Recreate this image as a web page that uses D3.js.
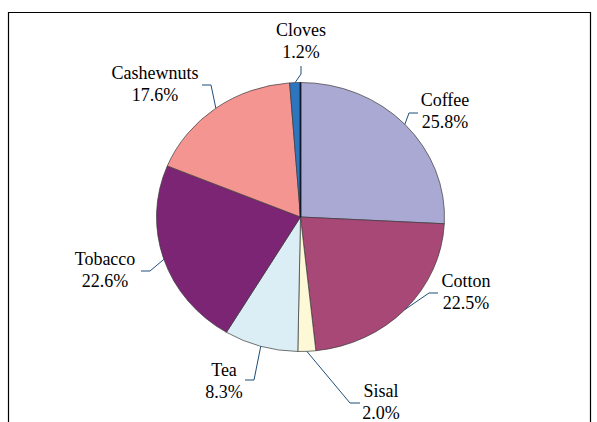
<!DOCTYPE html>
<html>
<head>
<meta charset="utf-8">
<script src="https://cdn.jsdelivr.net/npm/d3@7/dist/d3.min.js"></script>
<style>
  html, body { margin: 0; padding: 0; background: #fff; }
  svg { display: block; }
  .lbl { font-family: "Liberation Serif", "Times New Roman", Tinos, "DejaVu Serif", serif; font-size: 18px; }
</style>
</head>
<body>
<svg id="chart" width="597" height="422"></svg>
<script>
// Share of export earnings by crop (percent), clockwise from 12 o'clock
const crops = ["Coffee", "Cotton", "Sisal", "Tea", "Tobacco", "Cashewnuts", "Cloves"];
const shares = [25.8, 22.5, 2.0, 8.3, 22.6, 17.6, 1.2];
const sliceColors = ["#aaa9d3", "#a84877", "#fdf9d6", "#dbeef6", "#7b2574", "#f59592", "#2e75bf"];

// Label placement: text centre, first baseline, and the leader's elbow / end
const labelLayout = {
  Cloves:     { tx: 301, ty: 36,  elbow: [301, 74],  end: [301, 66] },
  Coffee:     { tx: 445, ty: 106, elbow: [409, 113], end: [418, 113] },
  Cotton:     { tx: 466, ty: 287, elbow: [429, 293], end: [438, 293] },
  Sisal:      { tx: 381, ty: 397, elbow: [350, 403], end: [360, 403] },
  Tea:        { tx: 224, ty: 376, elbow: [254, 380], end: [245, 380] },
  Tobacco:    { tx: 105, ty: 265, elbow: [150, 271], end: [141, 271] },
  Cashewnuts: { tx: 155, ty: 79,  elbow: [211, 85],  end: [202, 85] }
};

const svg = d3.select("#chart");
const cx = 300.5, cy = 217, rx = 144, ry = 134.5;
const lineGap = 22;

// Chart area frame (bottom edge runs off the page)
svg.append("path")
  .attr("d", "M8.5,422 L8.5,12.5 L590.5,12.5 L590.5,422")
  .attr("fill", "none")
  .attr("stroke", "#000")
  .attr("stroke-width", 1.2);

const data = crops.map((c, i) => ({ crop: c, value: shares[i], color: sliceColors[i] }));

const pie = d3.pie().value(d => d.value).sort(null);
const arcs = pie(data);
const arc = d3.arc().innerRadius(0).outerRadius(rx);

// The pie is drawn on a circle and squeezed vertically into an ellipse
const pieG = svg.append("g")
  .attr("transform", `translate(${cx},${cy}) scale(1,${ry / rx})`);

pieG.selectAll("path.slice")
  .data(arcs)
  .join("path")
  .attr("class", "slice")
  .attr("d", arc)
  .attr("fill", d => d.data.color)
  .attr("stroke", "#3a3a3a")
  .attr("stroke-width", 0.7)
  .attr("vector-effect", "non-scaling-stroke");

// Dark edge along the Cloves/Coffee boundary at 12 o'clock
svg.append("line")
  .attr("x1", cx).attr("y1", cy)
  .attr("x2", cx).attr("y2", cy - ry)
  .attr("stroke", "#111a2b")
  .attr("stroke-width", 1.8);

// Point on the ellipse rim at a slice's mid-angle
function rimPoint(a) {
  const m = (a.startAngle + a.endAngle) / 2;
  return [cx + rx * Math.sin(m), cy - ry * Math.cos(m)];
}

const labels = svg.append("g");

arcs.forEach(a => {
  const L = labelLayout[a.data.crop];
  const p = rimPoint(a);
  labels.append("polyline")
    .attr("points", [p, L.elbow, L.end].map(q => q.join(",")).join(" "))
    .attr("fill", "none")
    .attr("stroke", "#1f4e79")
    .attr("stroke-width", 1);

  const t = labels.append("text")
    .attr("class", "lbl")
    .attr("x", L.tx)
    .attr("y", L.ty)
    .attr("text-anchor", "middle")
    .attr("fill", "#000");
  t.append("tspan").attr("x", L.tx).attr("y", L.ty).text(a.data.crop);
  t.append("tspan").attr("x", L.tx).attr("y", L.ty + lineGap)
    .text(d3.format(".1f")(a.data.value) + "%");
});
</script>
</body>
</html>
